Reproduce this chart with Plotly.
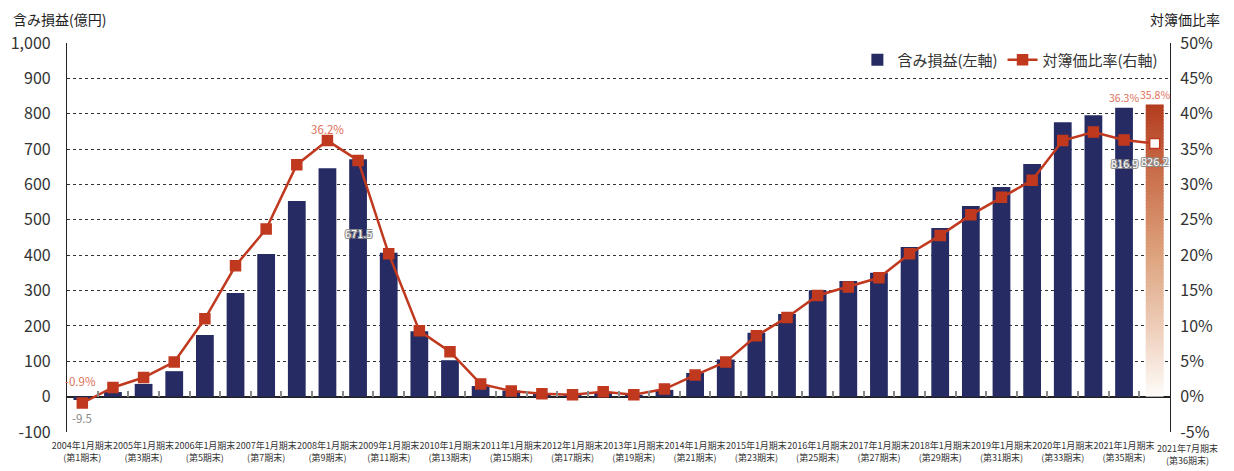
import plotly.graph_objects as go

# ---------------- data ----------------
periods = list(range(1, 37))  # 第1期末 ... 第36期末
gain = [-9.5, 13, 36, 72, 174, 293, 403, 553, 646, 671.5,
        407, 185, 103, 30, 17, 8, 4, 12, 3, 19,
        67, 105, 181, 234, 301, 327, 350, 423, 477, 539,
        593, 658, 776, 796, 816.9, 826.2]
ratio = [-0.9, 1.3, 2.7, 4.9, 11.0, 18.5, 23.7, 32.8, 36.2, 33.4,
         20.2, 9.3, 6.35, 1.8, 0.8, 0.4, 0.27, 0.7, 0.27, 1.07,
         3.05, 4.9, 8.6, 11.2, 14.3, 15.5, 16.8, 20.2, 22.8, 25.7,
         28.2, 30.6, 36.2, 37.4, 36.3, 35.8]
tick_periods = [1, 3, 5, 7, 9, 11, 13, 15, 17, 19, 21, 23, 25, 27, 29, 31, 33, 35]
tick_labels = [f"{2004 + i}年1月期末<br>(第{p}期末)" for i, p in enumerate(tick_periods)]
last_tick_label = "2021年7月期末<br>(第36期末)"
left_ticks = [-100, 0, 100, 200, 300, 400, 500, 600, 700, 800, 900, 1000]
left_ticktext = ["-100", "0", "100", "200", "300", "400", "500", "600", "700", "800", "900", "1,000"]
right_ticks = [-5, 0, 5, 10, 15, 20, 25, 30, 35, 40, 45, 50]
right_ticktext = ["-5%", "0%", "5%", "10%", "15%", "20%", "25%", "30%", "35%", "40%", "45%", "50%"]

# ---------------- styles ----------------
NAVY = "#262b63"
RED = "#c0391f"
SALMON = "#e0705a"
FONT = "Noto Sans CJK JP"
TXT = "#333333"
LBL = 10.5

fig = go.Figure()

# main bars (all but the latest period)
fig.add_trace(go.Bar(
    x=periods[:-1], y=gain[:-1], name="含み損益(左軸)",
    marker=dict(color=NAVY, line=dict(width=0)), width=0.58,
    hoverinfo="skip",
))

# latest period bar drawn as a vertical gradient (stacked thin slices)
stops = [(0.0, (254, 252, 250)), (0.25, (237, 203, 182)), (0.5, (220, 160, 122)),
         (0.75, (203, 113, 78)), (1.0, (179, 60, 31))]


def grad_color(t):
    for (t0, c0), (t1, c1) in zip(stops[:-1], stops[1:]):
        if t <= t1:
            f = (t - t0) / (t1 - t0)
            c = [round(a + (b - a) * f) for a, b in zip(c0, c1)]
            return f"rgb({c[0]},{c[1]},{c[2]})"
    c = stops[-1][1]
    return f"rgb({c[0]},{c[1]},{c[2]})"


N = 90
step = gain[-1] / N
fig.add_trace(go.Bar(
    x=[periods[-1]] * N,
    y=[step * 1.6 if i < N - 1 else step for i in range(N)],
    base=[i * step for i in range(N)],
    marker=dict(color=[grad_color((i + 0.5) / N) for i in range(N)], line=dict(width=0)),
    width=0.58, showlegend=False, hoverinfo="skip",
))

# dummy trace for the boundary-tick axis
bounds = [p + 0.5 for p in periods[:-1]]
fig.add_trace(go.Scatter(x=bounds, y=[None] * len(bounds), xaxis="x2", yaxis="y",
                         mode="markers", showlegend=False, hoverinfo="skip"))

# ratio line
mcolors = [RED] * (len(ratio) - 1) + ["white"]
fig.add_trace(go.Scatter(
    x=periods, y=ratio, yaxis="y2", name="対簿価比率(右軸)",
    mode="lines+markers",
    line=dict(color=RED, width=2.5),
    marker=dict(symbol="square", size=10, color=mcolors, line=dict(color=RED, width=1.5)),
    hoverinfo="skip",
))

outline = "1px 1px 0 #8c8c8c, -1px -1px 0 #8c8c8c, 1px -1px 0 #8c8c8c, -1px 1px 0 #8c8c8c"
ann = []
# value labels
ann.append(dict(x=periods[0], y=gain[0], xref="x", yref="y", text=f"{gain[0]}",
                showarrow=False, yshift=-18, font=dict(family=FONT, size=LBL + 1, color="#8a8a8a")))
for idx, ys in [(9, -74), (34, -55), (35, -57)]:
    ann.append(dict(x=periods[idx], y=gain[idx], xref="x", yref="y", text=f"{gain[idx]}",
                    showarrow=False, yshift=ys,
                    font=dict(family=FONT, size=LBL + 0.5, color="white", shadow=outline)))
# ratio labels
ann.append(dict(x=periods[0], y=ratio[0], xref="x", yref="y2", text=f"{ratio[0]}%",
                showarrow=False, yshift=22, xshift=-2, font=dict(family=FONT, size=LBL + 1, color=SALMON)))
ann.append(dict(x=periods[8], y=ratio[8], xref="x", yref="y2", text=f"{ratio[8]}%",
                showarrow=False, yshift=12, font=dict(family=FONT, size=LBL + 1, color=SALMON)))
for idx in (34, 35):
    ann.append(dict(x=periods[idx], y=gain[idx], xref="x", yref="y", text=f"{ratio[idx]}%",
                    showarrow=False, yshift=10, font=dict(family=FONT, size=LBL, color=SALMON)))
# last x tick label (shifted right, as in the reference)
ann.append(dict(x=periods[-1], y=0, xref="x", yref="paper", text=last_tick_label,
                showarrow=False, yanchor="top", yshift=-8, xshift=33,
                font=dict(family=FONT, size=9, color=TXT)))
# axis titles
ann.append(dict(x=0, y=1, xref="paper", yref="paper", text="含み損益(億円)", showarrow=False,
                xanchor="left", yanchor="bottom", xshift=-56, yshift=12,
                font=dict(family=FONT, size=14, color="#222")))
ann.append(dict(x=1, y=1, xref="paper", yref="paper", text="対簿価比率", showarrow=False,
                xanchor="right", yanchor="bottom", xshift=52, yshift=12,
                font=dict(family=FONT, size=14, color="#222")))

fig.update_layout(
    width=1226, height=463,
    margin=dict(l=59, r=64, t=35, b=39, autoexpand=False),
    paper_bgcolor="white", plot_bgcolor="white",
    barmode="overlay",
    font=dict(family=FONT, color=TXT),
    showlegend=True,
    legend=dict(orientation="h", x=0.994, xanchor="right", y=0.956, yanchor="middle",
                bgcolor="rgba(0,0,0,0)", font=dict(family=FONT, size=15, color=TXT),
                itemwidth=30, tracegroupgap=0),
    xaxis=dict(range=[0.5, 36.5], tickmode="array", tickvals=tick_periods, ticktext=tick_labels,
               tickangle=0, showgrid=False, zeroline=False, showline=False, ticks="",
               ticklabelstandoff=7, automargin=False,
               tickfont=dict(family=FONT, size=9, color=TXT)),
    xaxis2=dict(overlaying="x", anchor="free", position=100 / 1100, side="bottom",
                range=[0.5, 36.5], tickmode="array", tickvals=bounds, ticks="inside",
                ticklen=6, tickwidth=1.5, tickcolor="#888888", showticklabels=False,
                showgrid=False, zeroline=False, showline=False, automargin=False),
    yaxis=dict(range=[-100, 1000], tickmode="array", tickvals=left_ticks, ticktext=left_ticktext,
               showgrid=True, gridcolor="#333333", griddash="3px,3px", gridwidth=1,
               zeroline=True, zerolinecolor="#222222", zerolinewidth=1.5,
               showline=True, linecolor="#222222", linewidth=1.2, ticks="",
               ticklabelstandoff=12, automargin=False,
               tickfont=dict(family=FONT, size=16, color=TXT)),
    yaxis2=dict(range=[-5, 50], overlaying="y", side="right", tickmode="array",
                tickvals=right_ticks, ticktext=right_ticktext, showgrid=False, zeroline=False,
                showline=True, linecolor="#222222", linewidth=1.2, ticks="",
                ticklabelstandoff=6, automargin=False,
                tickfont=dict(family=FONT, size=16, color=TXT)),
    annotations=ann,
)

fig.write_html("out.html")
